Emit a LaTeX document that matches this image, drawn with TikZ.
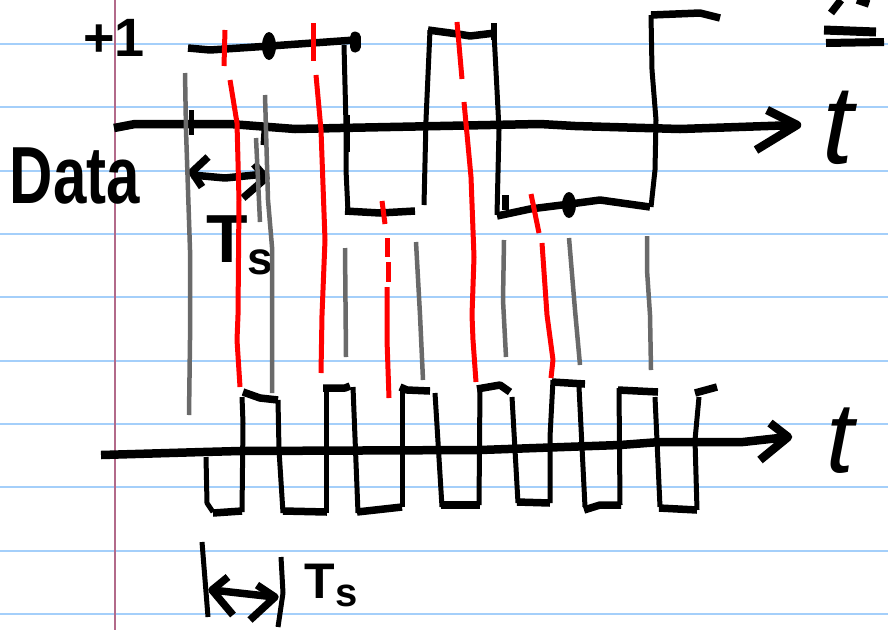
\documentclass[tikz,border=0pt]{standalone}
\usepackage{fontspec}
\setmainfont{Liberation Sans}
\definecolor{rulecol}{RGB}{164,207,250}
\definecolor{margincol}{RGB}{178,106,138}
\definecolor{markcol}{RGB}{106,106,106}
\tikzset{
    ink/.style={line width=7.5pt, line join=round, black},
    inkaxis/.style={line width=8.5pt, line join=round, black},
    inkthin/.style={line width=5pt, line join=round, black},
    graymark/.style={line width=4.5pt, line join=round, markcol},
    redmark/.style={line width=5pt, line join=round, red},
    rulerow/.style={line width=2.5pt, rulecol},
    inktext/.style={inner sep=0pt, outer sep=0pt, black, font=\bfseries}
}
\begin{document}
\begin{tikzpicture}[x=1pt, y=-1pt]
    \useasboundingbox (0,0) rectangle (888,630);
    \fill[white] (0,0) rectangle (888,630);

    % paper
    \foreach \r in {44,107,171,234,297,361,424,487,551,614}
        \draw[rulerow] (0,\r) -- (888,\r);
    \draw[line width=2.5pt, margincol] (115,0) -- (115,630);

    % labels
    \node (One) at (114,38) [inktext] {\fontsize{54}{54}\selectfont +1};
    \node (Dat) at (75,176) [inktext, yscale=1.35, transform shape] {\fontsize{60}{60}\selectfont Data};
    \node (TopT) at (838,128) [inktext] {\fontsize{112}{112}\selectfont\mdseries\itshape t};
    \node (BotT) at (840,441) [inktext] {\fontsize{100}{100}\selectfont\mdseries\itshape t};
    \node (TsA) at (240,245) [inktext] {\fontsize{68}{68}\selectfont T\raisebox{-12pt}{\fontsize{46}{46}\selectfont s}};
    \node (TsB) at (331,585) [inktext] {\fontsize{50}{50}\selectfont T\raisebox{-8pt}{\fontsize{40}{40}\selectfont s}};

    % top axis
    \draw[inkaxis] (114,128) -- (135,124) -- (230,124) -- (295,129) -- (340,128)
        -- (540,124) -- (575,126) -- (680,129) -- (797,125);
    \draw[inkaxis] (767,110) -- (797,125) -- (756,150);
    \draw[inkthin] (191,110) -- (191,135);
    \draw[inkthin] (264,130) -- (263,145);
    \draw[inkthin] (347,115) -- (347,152);

    % data wave
    \draw[ink] (188,48) -- (210,50) -- (270,46) -- (355,40);
    \draw[line width=11pt, line cap=round, black] (355,37) -- (355,47);
    \fill (269,46) ellipse (7 and 14);
    \draw[inkthin] (344,45) -- (346,125) -- (346,170) -- (348,212);
    \draw[ink] (345,211) -- (380,213) -- (415,211);
    \draw[inkthin] (424,205) -- (426,120) -- (430,30);
    \draw[ink] (428,30) -- (458,34) -- (470,36) -- (495,33);
    \draw[line width=6pt, black] (494,23) -- (494,40);
    \draw[inkthin] (494,33) -- (497,90) -- (499,130) -- (497,215);
    \draw[ink] (497,216) -- (530,209) -- (570,204) -- (600,200) -- (650,207);
    \draw[line width=7pt, black] (505,195) -- (505,210);
    \fill (569,205) ellipse (7 and 13);
    \draw[inkthin] (651,207) -- (655,170) -- (656,120) -- (652,70) -- (651,15);
    \draw[ink] (651,15) -- (700,13) -- (720,18);

    % bit span
    \draw[ink] (192,175) -- (225,178) -- (265,174);
    \draw[ink] (208,157) -- (192,172) -- (202,187);
    \draw[ink] (254,164) -- (266,178) -- (243,198);

    % bottom axis
    \draw[inkaxis] (101,455) -- (203,452) -- (240,451) -- (480,450) -- (620,445)
        -- (660,442) -- (743,442) -- (788,437);
    \draw[inkaxis] (770,423) -- (788,437) -- (760,460);

    % chips
    \draw[inkthin] (206,457) -- (207,503) -- (213,512);
    \draw[ink] (213,513) -- (242,511);
    \draw[inkthin] (242,512) -- (243,423) -- (242,397);
    \draw[ink] (243,392) -- (260,398) -- (278,400);
    \draw[inkthin] (278,400) -- (279,450) -- (283,513);
    \draw[ink] (283,511) -- (327,512);
    \draw[inkthin] (326,513) -- (326,387);
    \draw[ink] (323,388) -- (345,388) -- (350,386);
    \draw[inkthin] (353,387) -- (358,513);
    \draw[ink] (357,512) -- (402,507);
    \draw[inkthin] (402,507) -- (402,387);
    \draw[ink] (400,387) -- (407,390) -- (430,391);
    \draw[inkthin] (435,393) -- (442,507);
    \draw[ink] (441,505) -- (480,505);
    \draw[inkthin] (479,505) -- (480,387);
    \draw[ink] (477,389) -- (500,385) -- (510,392);
    \draw[inkthin] (512,397) -- (518,503);
    \draw[ink] (517,502) -- (550,503);
    \draw[inkthin] (550,503) -- (550,437) -- (553,380);
    \draw[ink] (552,382) -- (585,384);
    \draw[inkthin] (579,387) -- (585,507);
    \draw[ink] (584,510) -- (600,505) -- (621,505);
    \draw[inkthin] (620,505) -- (619,388);
    \draw[ink] (618,390) -- (658,392);
    \draw[inkthin] (655,397) -- (660,507);
    \draw[ink] (659,508) -- (697,510);
    \draw[inkthin] (697,510) -- (695,440) -- (699,397);
    \draw[ink] (695,393) -- (717,387);

    % chip span
    \draw[inkthin] (202,542) -- (208,617);
    \draw[inkthin] (281,557) -- (283,593) -- (278,627);
    \draw[ink] (212,590) -- (275,597);
    \draw[ink] (228,577) -- (212,590) -- (233,615);
    \draw[ink] (257,585) -- (275,597) -- (250,620);

    % equals, cut off by the page
    \draw[line width=9pt, black] (824,30) -- (876,32);
    \draw[line width=8pt, black] (826,43) -- (884,42);
    \draw[ink] (831,13) -- (841,0);
    \draw[ink] (857,0) -- (869,4);

    % gray guides
    \draw[graymark] (185,73) -- (186,130) -- (190,250) -- (190,340) -- (189,415);
    \draw[graymark] (265,95) -- (268,200) -- (272,247) -- (272,315) -- (272,393);
    \draw[graymark] (256,138) -- (260,222);
    \draw[graymark] (345,248) -- (346,357);
    \draw[graymark] (416,242) -- (420,315) -- (423,380);
    \draw[graymark] (504,240) -- (503,300) -- (506,357);
    \draw[graymark] (569,238) -- (575,310) -- (580,365);
    \draw[graymark] (647,236) -- (647,270) -- (650,315) -- (651,370);

    % red guides
    \draw[redmark] (225,30) -- (224,66);
    \draw[redmark] (230,80) -- (237,123) -- (239,200) -- (238,315) -- (237,340) -- (240,387);
    \draw[redmark] (313,23) -- (313,61);
    \draw[redmark] (316,75) -- (321,130) -- (325,240) -- (322,315) -- (321,373);
    \draw[redmark] (382,201) -- (385,224);
    \draw[redmark] (387,238) -- (387,257);
    \draw[redmark] (388,262) -- (388,282);
    \draw[redmark] (387,287) -- (387,340) -- (389,398);
    \draw[redmark] (457,22) -- (462,79);
    \draw[redmark] (464,102) -- (471,177) -- (474,257) -- (472,315) -- (473,340) -- (476,382);
    \draw[redmark] (531,194) -- (539,233);
    \draw[redmark] (542,243) -- (547,315) -- (553,360) -- (551,378);
\end{tikzpicture}
\end{document}
